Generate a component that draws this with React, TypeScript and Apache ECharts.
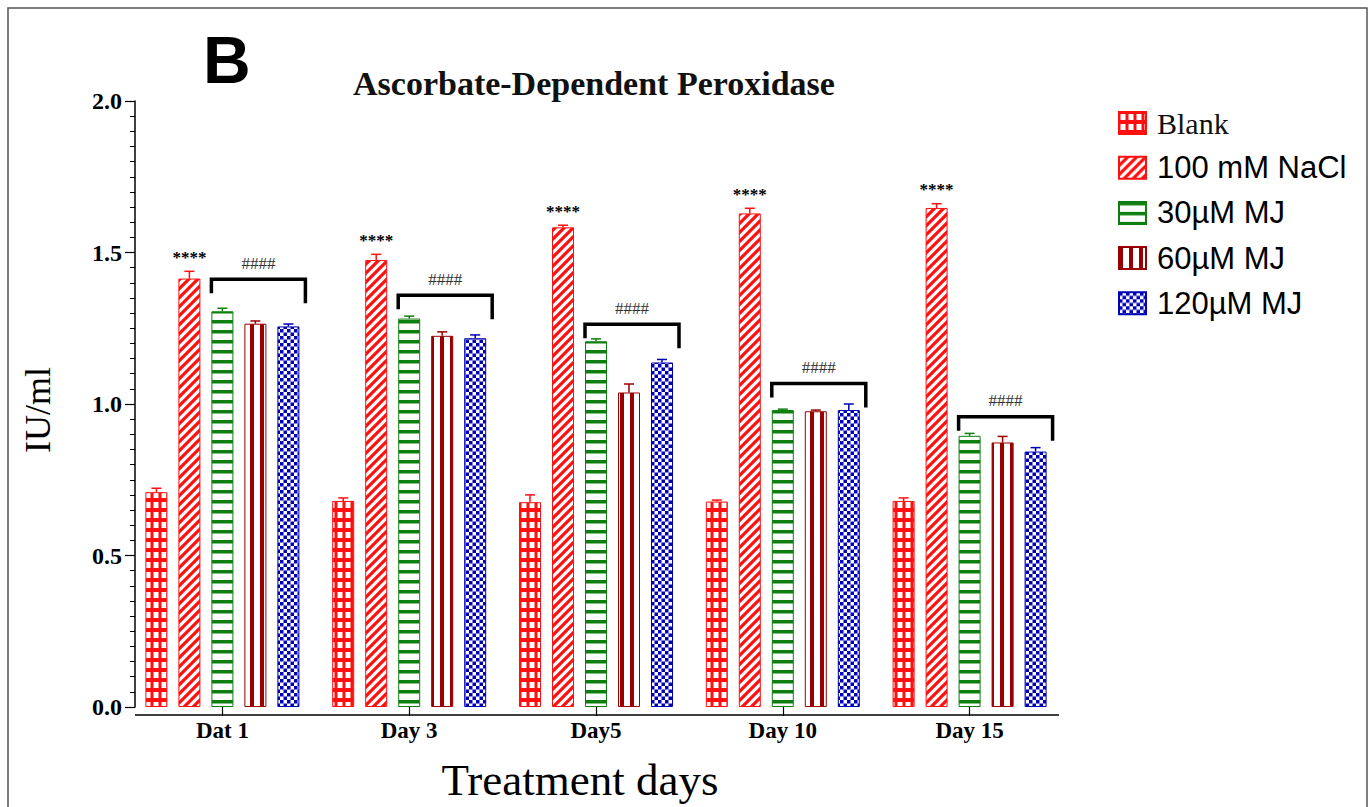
import React, { useEffect, useRef } from "react";
import * as echarts from "echarts";

const categories = ["Dat 1", "Day 3", "Day5", "Day 10", "Day 15"];
const seriesNames = ["Blank", "100 mM NaCl", "30µM MJ", "60µM MJ", "120µM MJ"];
const yTicks = [0, 0.5, 1.0, 1.5, 2.0];

const blank = [0.709, 0.68, 0.676, 0.678, 0.68];
const blankErr = [0.722, 0.69, 0.7, 0.683, 0.69];
const nacl = [1.414, 1.475, 1.583, 1.629, 1.647];
const naclErr = [1.438, 1.494, 1.59, 1.646, 1.661];
const mj30 = [1.306, 1.282, 1.207, 0.98, 0.895];
const mj30Err = [1.316, 1.29, 1.215, 0.983, 0.903];
const mj60 = [1.265, 1.225, 1.038, 0.976, 0.873];
const mj60Err = [1.274, 1.238, 1.066, 0.98, 0.893];
const mj120 = [1.256, 1.217, 1.137, 0.98, 0.843];
const mj120Err = [1.264, 1.228, 1.147, 1.0, 0.856];

const bracketLevels = [1.412, 1.359, 1.263, 1.068, 0.958];
const starMarks = ["****", "****", "****", "****", "****"];
const hashMarks = ["####", "####", "####", "####", "####"];

const SERIF = "'Liberation Serif', 'Times New Roman', serif";
const SANS = "'Liberation Sans', Arial, sans-serif";

const RED = "#ff1010";
const GREEN = "#0e7f0e";
const DARKRED = "#9a0000";
const BLUE = "#0000b4";
const colors = [RED, RED, GREEN, DARKRED, BLUE];

function makePattern(body: string, w: number, h: number) {
  const svg = `<svg xmlns="http://www.w3.org/2000/svg" width="${w}" height="${h}">${body}</svg>`;
  return {
    image: "data:image/svg+xml;charset=utf-8," + encodeURIComponent(svg),
    repeat: "repeat",
    imageWidth: w,
    imageHeight: h,
  } as any;
}

const patterns = [
  makePattern(`<rect width="8" height="10" fill="${RED}"/><rect x="1.5" y="2" width="5" height="6" fill="#fff"/>`, 8, 10),
  makePattern(
    `<rect width="9" height="9" fill="#fff"/><path d="M-3,3 L3,-3 M0,9 L9,0 M6,12 L12,6" stroke="${RED}" stroke-width="3.2"/>`,
    9,
    9
  ),
  makePattern(`<rect width="10" height="10" fill="#fff"/><rect y="0" width="10" height="3.5" fill="${GREEN}"/>`, 10, 10),
  makePattern(`<rect width="10" height="10" fill="#fff"/><rect x="0" width="4" height="10" fill="${DARKRED}"/>`, 10, 10),
  makePattern(
    `<rect width="7" height="7" fill="#fff"/><rect width="3.5" height="3.5" fill="${BLUE}"/><rect x="3.5" y="3.5" width="3.5" height="3.5" fill="${BLUE}"/>`,
    7,
    7
  ),
];

const values = [blank, nacl, mj30, mj60, mj120];
const errs = [blankErr, naclErr, mj30Err, mj60Err, mj120Err];

const BAR_W = 22;
const BAR_STEP = 33;

export default function App() {
  const ref = useRef<HTMLDivElement>(null);
  useEffect(() => {
    if (!ref.current) return;
    const chart = echarts.init(ref.current, null, { renderer: "svg" });

    const errData: number[][] = [];
    values.forEach((arr, si) => {
      arr.forEach((v, ci) => errData.push([ci, si, v, errs[si][ci]]));
    });
    const annData = categories.map((_, ci) => [ci, bracketLevels[ci], naclErr[ci]]);

    const barSeries = seriesNames.map((name, si) => ({
      name,
      type: "bar",
      barWidth: BAR_W,
      barGap: "50%",
      data: values[si],
      itemStyle: {
        color: patterns[si],
        borderColor: colors[si],
        borderWidth: 1,
      },
      emphasis: { disabled: true },
    }));

    const option: any = {
      animation: false,
      backgroundColor: "#fff",
      title: [
        {
          text: "B",
          left: 203,
          top: 27,
          padding: 0,
          textStyle: { fontFamily: SANS, fontWeight: "bold", fontSize: 66, color: "#000" },
        },
        {
          text: "Ascorbate-Dependent Peroxidase",
          left: 353,
          top: 66,
          padding: 0,
          textStyle: { fontFamily: SERIF, fontWeight: "bold", fontSize: 34, color: "#111" },
        },
      ],
      legend: {
        data: seriesNames,
        orient: "vertical",
        left: 1113,
        top: 103,
        itemWidth: 27,
        itemHeight: 22,
        itemGap: 14.2,
        icon: "rect",
        formatter: (name: string) => (name === "Blank" ? `{serif|${name}}` : `{sans|${name}}`),
        textStyle: {
          color: "#000",
          fontSize: 31,
          fontFamily: SANS,
          padding: [0, 0, 0, 6],
          rich: {
            serif: { fontFamily: SERIF, fontSize: 30, color: "#111" },
            sans: { fontFamily: SANS, fontSize: 31, color: "#000" },
          },
        },
      },
      grid: { left: 129, top: 101, width: 934, height: 614, containLabel: false },
      xAxis: {
        type: "category",
        data: categories,
        axisLine: { show: false },
        axisTick: { show: true, alignWithLabel: true, length: 9, lineStyle: { color: "#000", width: 1.2 } },
        axisLabel: { fontFamily: SERIF, fontWeight: "bold", fontSize: 23, color: "#000", margin: 12 },
        name: "Treatment days",
        nameLocation: "middle",
        nameGap: 50,
        nameTextStyle: { fontFamily: SERIF, fontSize: 45, color: "#000", padding: [0, 32, 0, 0] },
      },
      yAxis: {
        type: "value",
        min: 0,
        max: 2,
        interval: 0.5,
        offset: -6,
        axisLine: { show: true, lineStyle: { color: "#000", width: 1.5 } },
        axisTick: { show: true, length: 10, lineStyle: { color: "#000", width: 1.2 } },
        minorTick: { show: true, splitNumber: 10, length: 5, lineStyle: { color: "#000", width: 1 } },
        splitLine: { show: false },
        axisLabel: {
          fontFamily: SERIF,
          fontWeight: "bold",
          fontSize: 24,
          color: "#000",
          margin: 13,
          formatter: (v: number) => (yTicks.includes(v) ? v.toFixed(1) : ""),
        },
        name: "IU/ml",
        nameLocation: "middle",
        nameGap: 79,
        nameTextStyle: { fontFamily: SERIF, fontSize: 36, color: "#000", padding: [0, 12, 0, 0] },
      },
      graphic: [
        {
          type: "rect",
          shape: { x: 8, y: 8, width: 1359, height: 830 },
          style: { fill: "none", stroke: "#555", lineWidth: 1.5 },
          silent: true,
        },
        {
          type: "line",
          shape: { x1: 135, y1: 715, x2: 1059, y2: 715 },
          style: { stroke: "#000", lineWidth: 1.5 },
          silent: true,
          z: 10,
        },
      ],
      series: [
        ...barSeries,
        {
          type: "custom",
          name: "errors",
          data: errData,
          encode: { x: 0, y: [2, 3] },
          z: 5,
          silent: true,
          renderItem: (params: any, api: any) => {
            const cat = api.value(0);
            const si = api.value(1);
            const p0 = api.coord([cat, api.value(2)]);
            const p1 = api.coord([cat, api.value(3)]);
            const x = p0[0] + (si - 2) * BAR_STEP;
            const c = colors[si];
            return {
              type: "group",
              children: [
                { type: "line", shape: { x1: x, y1: p0[1], x2: x, y2: p1[1] }, style: { stroke: c, lineWidth: 1.5 } },
                { type: "line", shape: { x1: x - 5, y1: p1[1], x2: x + 5, y2: p1[1] }, style: { stroke: c, lineWidth: 1.5 } },
              ],
            };
          },
        },
        {
          type: "custom",
          name: "annotations",
          data: annData,
          encode: { x: 0, y: [1, 2] },
          z: 6,
          silent: true,
          renderItem: (params: any, api: any) => {
            const cat = api.value(0);
            const top = api.coord([cat, api.value(1)]);
            const star = api.coord([cat, api.value(2)]);
            const leftX = top[0] - BAR_W / 2;
            const rightX = top[0] + 2 * BAR_STEP + BAR_W / 2 + 6;
            const y = top[1];
            return {
              type: "group",
              children: [
                {
                  type: "polyline",
                  shape: { points: [[leftX, y + 14], [leftX, y], [rightX, y], [rightX, y + 24]] },
                  style: { stroke: "#000", lineWidth: 3.5, fill: "none" },
                },
                {
                  type: "text",
                  x: (leftX + rightX) / 2,
                  y: y - 16,
                  style: {
                    text: hashMarks[params.dataIndex],
                    font: `17px ${SERIF}`,
                    fill: "#333",
                    align: "center",
                    verticalAlign: "middle",
                  },
                },
                {
                  type: "text",
                  x: top[0] - BAR_STEP,
                  y: star[1] - 14,
                  style: {
                    text: starMarks[params.dataIndex],
                    font: `bold 17px ${SERIF}`,
                    fill: "#000",
                    align: "center",
                    verticalAlign: "middle",
                  },
                },
              ],
            };
          },
        },
      ],
    };
    chart.setOption(option);
    return () => chart.dispose();
  }, []);
  return (
    <div
      ref={ref}
      style={{ position: "fixed", left: 0, top: 0, width: 1372, height: 807, background: "#fff" }}
    />
  );
}
